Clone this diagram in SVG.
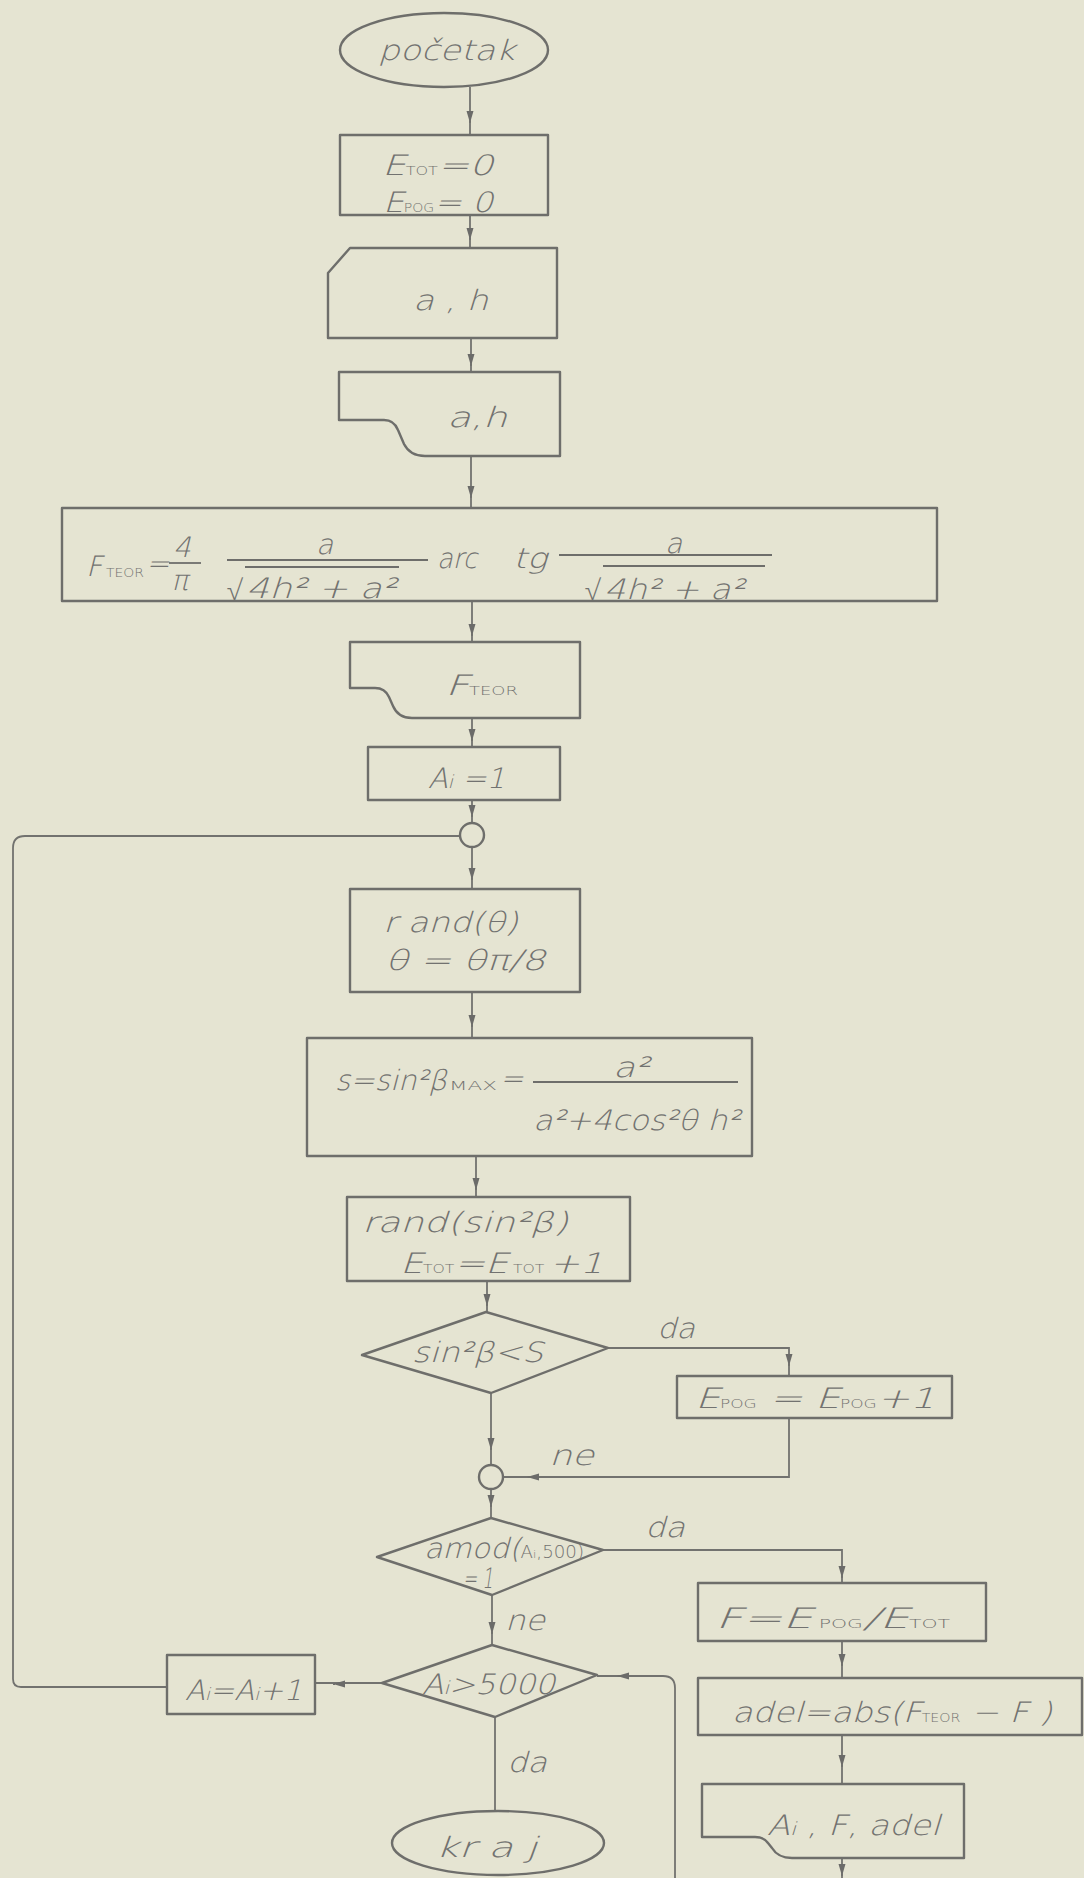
<svg xmlns="http://www.w3.org/2000/svg" width="1084" height="1878" viewBox="0 0 1084 1878">
<defs>
<marker id="ah" markerUnits="userSpaceOnUse" markerWidth="14" markerHeight="8" refX="12" refY="4" orient="auto">
<path d="M0,0.5 L12,4 L0,7.5 Z" fill="#6b6b69"/>
</marker>
<style>
.bg{fill:#e5e4d2}
.sh{fill:none;stroke:#6e6e6b;stroke-width:2.4;stroke-linejoin:round}
.cn{fill:none;stroke:#72726f;stroke-width:1.8}
.ar{fill:none;stroke:#72726f;stroke-width:1.8}
text{font-family:"DejaVu Sans ExtraLight","DejaVu Sans Light","Open Sans","DejaVu Sans","Liberation Sans",sans-serif;font-style:italic;font-weight:300;fill:#727270;font-size:28px}
.sub{font-style:normal;font-weight:400;font-size:12px}
.bar{stroke:#6e6e6b;stroke-width:1.8}
</style>
</defs>
<rect class="bg" x="0" y="0" width="1084" height="1878"/>

<g id="connectors">
<path class="cn" d="M470,87 V135"/>
<path class="cn" d="M470,215 V248"/>
<path class="cn" d="M471,338 V372"/>
<path class="cn" d="M471,456 V508"/>
<path class="cn" d="M472,601 V642"/>
<path class="cn" d="M472,718 V747"/>
<path class="cn" d="M472,800 V823"/>
<path class="cn" d="M472,847 V889"/>
<path class="cn" d="M472,992 V1038"/>
<path class="cn" d="M476,1156 V1197"/>
<path class="cn" d="M487,1281 V1312"/>
<path class="cn" d="M608,1348 H789 V1376"/>
<path class="cn" d="M491,1393 V1465"/>
<path class="cn" d="M789,1418 V1477 H503"/>
<path class="cn" d="M491,1489 V1518"/>
<path class="cn" d="M603,1550 H842 V1583"/>
<path class="cn" d="M492,1595 V1645"/>
<path class="cn" d="M842,1641 V1678"/>
<path class="cn" d="M842,1735 V1784"/>
<path class="cn" d="M842,1858 V1878"/>
<path class="cn" d="M675,1878 V1688 Q675,1676 663,1676 H597"/>
<path class="cn" d="M382,1683 H315"/>
<path class="cn" d="M167,1687 H21 Q13,1687 13,1679 V848 Q13,836 25,836 H460"/>
<path class="cn" d="M495,1717 V1812"/>
<!-- arrowheads -->
<path class="ar" d="M470,121 V123" marker-end="url(#ah)"/>
<path class="ar" d="M470,238 V240" marker-end="url(#ah)"/>
<path class="ar" d="M471,364 V366" marker-end="url(#ah)"/>
<path class="ar" d="M471,496 V498" marker-end="url(#ah)"/>
<path class="ar" d="M472,634 V636" marker-end="url(#ah)"/>
<path class="ar" d="M472,739 V741" marker-end="url(#ah)"/>
<path class="ar" d="M472,815 V817" marker-end="url(#ah)"/>
<path class="ar" d="M472,878 V880" marker-end="url(#ah)"/>
<path class="ar" d="M472,1025 V1027" marker-end="url(#ah)"/>
<path class="ar" d="M476,1188 V1190" marker-end="url(#ah)"/>
<path class="ar" d="M487,1304 V1306" marker-end="url(#ah)"/>
<path class="ar" d="M789,1364 V1366" marker-end="url(#ah)"/>
<path class="ar" d="M491,1448 V1450" marker-end="url(#ah)"/>
<path class="ar" d="M529,1477 H527" marker-end="url(#ah)"/>
<path class="ar" d="M491,1505 V1507" marker-end="url(#ah)"/>
<path class="ar" d="M842,1576 V1578" marker-end="url(#ah)"/>
<path class="ar" d="M492,1632 V1634" marker-end="url(#ah)"/>
<path class="ar" d="M842,1664 V1666" marker-end="url(#ah)"/>
<path class="ar" d="M842,1765 V1767" marker-end="url(#ah)"/>
<path class="ar" d="M842,1874 V1876" marker-end="url(#ah)"/>
<path class="ar" d="M619,1676 H617" marker-end="url(#ah)"/>
<path class="ar" d="M335,1684 H333" marker-end="url(#ah)"/>
</g>

<g id="n-pocetak">
<ellipse class="sh" cx="444" cy="50" rx="104" ry="37"/>
<text x="378" y="60" font-size="34" textLength="137" lengthAdjust="spacingAndGlyphs">početak</text>
</g>

<g id="n-init">
<rect class="sh" x="340" y="135" width="208" height="80"/>
<text x="382" y="175" font-size="32" textLength="111" lengthAdjust="spacingAndGlyphs">E<tspan class="sub">TOT</tspan>=0</text>
<text x="383" y="212" font-size="32" textLength="110" lengthAdjust="spacingAndGlyphs">E<tspan class="sub">POG</tspan>= 0</text>
</g>

<g id="n-input">
<path class="sh" d="M350,248 H557 V338 H328 V273 Z"/>
<text x="413" y="310" font-size="30" textLength="75" lengthAdjust="spacingAndGlyphs">a , h</text>
</g>

<g id="n-print-ah">
<path class="sh" d="M339,372 H560 V456 H425 Q410,456 404,444 L398,430 Q394,420 384,420 H339 Z"/>
<text x="447" y="427" font-size="30" textLength="60" lengthAdjust="spacingAndGlyphs">a,h</text>
</g>

<g id="n-fteor-formula">
<rect class="sh" x="62" y="508" width="875" height="93"/>
<text x="86" y="576" font-size="30">F</text>
<text x="106" y="577" class="sub" font-size="11" textLength="38" lengthAdjust="spacingAndGlyphs">TEOR</text>
<text x="146" y="573" font-size="18">=</text>
<text x="173" y="557" font-size="26">4</text>
<line class="bar" x1="169" y1="563" x2="201" y2="563"/>
<text x="171" y="590" font-size="28">π</text>
<text x="316" y="554" font-size="28">a</text>
<line class="bar" x1="227" y1="560" x2="428" y2="560"/>
<text x="226" y="600" font-size="32">√</text>
<line class="bar" x1="245" y1="567" x2="399" y2="567"/>
<text x="246" y="598" font-size="28" textLength="150" lengthAdjust="spacingAndGlyphs">4h² + a²</text>
<text x="437" y="568" font-size="28" textLength="40" lengthAdjust="spacingAndGlyphs">arc</text>
<text x="513" y="568" font-size="28" textLength="34" lengthAdjust="spacingAndGlyphs">tg</text>
<text x="665" y="553" font-size="28">a</text>
<line class="bar" x1="559" y1="555" x2="772" y2="555"/>
<text x="584" y="600" font-size="32">√</text>
<line class="bar" x1="603" y1="566" x2="765" y2="566"/>
<text x="604" y="599" font-size="28" textLength="140" lengthAdjust="spacingAndGlyphs">4h² + a²</text>
</g>

<g id="n-print-fteor">
<path class="sh" d="M350,642 H580 V718 H412 Q398,718 393,706 L389,697 Q385,688 375,688 H350 Z"/>
<text x="445" y="695" font-size="32" textLength="73" lengthAdjust="spacingAndGlyphs">F<tspan class="sub" font-size="14">TEOR</tspan></text>
</g>

<g id="n-ai1">
<rect class="sh" x="368" y="747" width="192" height="53"/>
<text x="428" y="788" font-size="30" textLength="77" lengthAdjust="spacingAndGlyphs">A<tspan font-size="18">i</tspan> =1</text>
</g>

<g id="n-join1">
<circle class="sh" cx="472" cy="835" r="12"/>
</g>

<g id="n-rand-theta">
<rect class="sh" x="350" y="889" width="230" height="103"/>
<text x="383" y="932" font-size="30" textLength="135" lengthAdjust="spacingAndGlyphs">r and(θ)</text>
<text x="385" y="970" font-size="30" textLength="160" lengthAdjust="spacingAndGlyphs">θ = θπ/8</text>
</g>

<g id="n-s">
<rect class="sh" x="307" y="1038" width="445" height="118"/>
<text x="335" y="1090" font-size="30" textLength="112" lengthAdjust="spacingAndGlyphs">s=sin²β</text>
<text x="449" y="1090" class="sub" font-size="11" textLength="48" lengthAdjust="spacingAndGlyphs">MAX</text>
<text x="500" y="1088" font-size="24">=</text>
<text x="613" y="1077" font-size="30" textLength="36" lengthAdjust="spacingAndGlyphs">a²</text>
<line class="bar" x1="533" y1="1082" x2="738" y2="1082"/>
<text x="533" y="1130" font-size="30" textLength="207" lengthAdjust="spacingAndGlyphs">a²+4cos²θ h²</text>
</g>

<g id="n-rand-sin">
<rect class="sh" x="347" y="1197" width="283" height="84"/>
<text x="362" y="1232" font-size="30" textLength="206" lengthAdjust="spacingAndGlyphs">rand(sin²β)</text>
<text x="400" y="1273" font-size="30" textLength="203" lengthAdjust="spacingAndGlyphs">E<tspan class="sub">TOT</tspan>=E<tspan class="sub" font-size="14"> TOT </tspan> +1</text>
</g>

<g id="n-dec-sin">
<path class="sh" d="M486,1312 L608,1348 L491,1393 L362,1355 Z"/>
<text x="412" y="1362" font-size="30" textLength="131" lengthAdjust="spacingAndGlyphs">sin²β&lt;S</text>
</g>
<text x="657" y="1338" font-size="28" textLength="38" lengthAdjust="spacingAndGlyphs">da</text>

<g id="n-epog">
<rect class="sh" x="677" y="1376" width="275" height="42"/>
<text x="695" y="1408" font-size="28" textLength="240" lengthAdjust="spacingAndGlyphs">E<tspan class="sub" font-size="13">POG</tspan> = E<tspan class="sub" font-size="13">POG</tspan>+1</text>
</g>
<text x="549" y="1465" font-size="28" textLength="45" lengthAdjust="spacingAndGlyphs">ne</text>

<g id="n-join2">
<circle class="sh" cx="491" cy="1477" r="12"/>
</g>

<g id="n-dec-amod">
<path class="sh" d="M491,1518 L603,1550 L492,1595 L377,1557 Z"/>
<text x="424" y="1558" font-size="28" textLength="160" lengthAdjust="spacingAndGlyphs">amod(<tspan font-size="17" font-style="normal" font-weight="400">A<tspan font-size="11">i</tspan>,500)</tspan></text>
<text x="463" y="1588" font-size="17" textLength="30" lengthAdjust="spacingAndGlyphs">= 1</text>
</g>
<text x="645" y="1537" font-size="28" textLength="40" lengthAdjust="spacingAndGlyphs">da</text>
<text x="505" y="1630" font-size="28" textLength="40" lengthAdjust="spacingAndGlyphs">ne</text>

<g id="n-dec-ai">
<path class="sh" d="M492,1645 L597,1675 L495,1717 L382,1683 Z"/>
<text x="422" y="1694" font-size="30" textLength="133" lengthAdjust="spacingAndGlyphs">A<tspan font-size="18">i</tspan>&gt;5000</text>
</g>

<g id="n-ai-inc">
<rect class="sh" x="167" y="1655" width="148" height="59"/>
<text x="185" y="1700" font-size="28" textLength="117" lengthAdjust="spacingAndGlyphs">A<tspan font-size="17">i</tspan>=A<tspan font-size="17">i</tspan>+1</text>
</g>
<text x="507" y="1772" font-size="28" textLength="40" lengthAdjust="spacingAndGlyphs">da</text>

<g id="n-kraj">
<ellipse class="sh" cx="498" cy="1843" rx="106" ry="32"/>
<text x="435" y="1857" font-size="30" textLength="102" lengthAdjust="spacingAndGlyphs">kr a j</text>
</g>

<g id="n-f">
<rect class="sh" x="698" y="1583" width="288" height="58"/>
<text x="715" y="1628" font-size="32" textLength="235" lengthAdjust="spacingAndGlyphs">F=E<tspan class="sub" font-size="15"> POG</tspan>/E<tspan class="sub" font-size="15">TOT</tspan></text>
</g>

<g id="n-adel">
<rect class="sh" x="698" y="1678" width="384" height="57"/>
<text x="732" y="1722" font-size="30" textLength="320" lengthAdjust="spacingAndGlyphs">adel=abs(F<tspan class="sub" font-size="14">TEOR</tspan> − F )</text>
</g>

<g id="n-print-res">
<path class="sh" d="M702,1784 H964 V1858 H792 Q778,1858 772,1848 L768,1843 Q764,1837 755,1837 H702 Z"/>
<text x="767" y="1835" font-size="30" textLength="173" lengthAdjust="spacingAndGlyphs">A<tspan font-size="18">i</tspan> , F, adel</text>
</g>
</svg>
